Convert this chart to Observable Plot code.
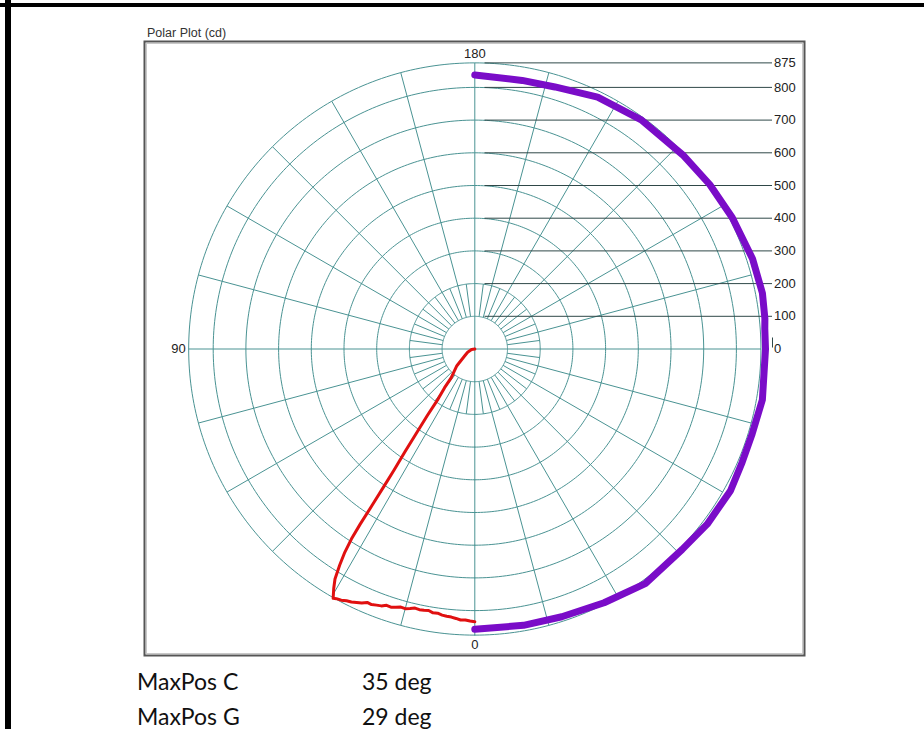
<!DOCTYPE html>
<html><head><meta charset="utf-8">
<script src="https://cdn.jsdelivr.net/npm/d3@7"></script>
<script src="https://cdn.jsdelivr.net/npm/@observablehq/plot@0.6"></script>
<style>
html,body{margin:0;padding:0;background:#fff;}
#wrap{position:relative;width:924px;height:729px;overflow:hidden;background:#fff;}
#chart{position:absolute;left:0;top:0;}
.bar{position:absolute;background:#000;}
.cap{position:absolute;font-family:Lato,"Open Sans",sans-serif;font-size:23px;line-height:23px;color:#111;white-space:pre;}
</style></head><body>
<div id="wrap">
<div id="chart"></div>
<div class="bar" style="left:0;top:3px;width:924px;height:4px"></div>
<div class="bar" style="left:5px;top:0;width:6px;height:729px"></div>
<div id="caps"></div>
</div>
<script>
// ---- data ----
const title = "Polar Plot (cd)";
const ringValues = [100, 200, 300, 400, 500, 600, 700, 800, 875];
const scaleTicks = [0, 100, 200, 300, 400, 500, 600, 700, 800, 875];
const angleLabels = [0, 90, 180];
const mainSpokeStep = 15;   // degrees
const innerSpokeStep = 7.5; // degrees

const purpleAngle = [180, 190, 197, 206, 216, 227, 235, 243, 252, 259, 264, 266, 270, 280, 287, 293, 299, 307, 314, 324, 333, 342, 350, 360];
const purpleValue = [838, 834, 838, 857, 866, 870, 877, 884, 893, 896, 892, 889, 889, 893, 887, 888, 894, 890, 882, 887, 871, 861, 858, 857];

const redAngle = [0, 1, 2, 3, 4, 5, 6, 7, 8, 9, 10, 11, 12, 13, 14, 15, 16, 17, 18, 19, 20, 21, 22, 23, 24, 25, 26, 27, 28, 29, 29.6,
  30.5, 31.3, 32.0, 32.6, 33.0, 33.2, 33.3, 33.5, 33.7, 34.2, 34.7, 35.5, 36.3, 38, 39.4, 47, 56, 66, 81, 90];
const redValue = [834, 832, 829, 830, 826, 823, 822, 820, 816, 817, 812, 814, 815, 813, 818, 822, 821, 826, 830, 829, 836, 839, 843, 842, 850, 855, 861, 864, 870, 873, 877,
  850, 823, 780, 738, 693, 640, 571, 500, 444, 380, 318, 250, 189, 150, 114, 75, 37, 24, 10, 0];

const captionNames = ["MaxPos C", "MaxPos G"];
const captionValues = [35, 29];
const captionUnit = "deg";

// ---- geometry ----
const W = 924, H = 660;
const k = 0.327, cx = 474.3, cy = 348.5;
const L = 144, R = 804, T = 41, B = 655;
const rad = d => d * Math.PI / 180;
const px = (a, r) => -r * Math.sin(rad(a));
const py = (a, r) => -r * Math.cos(rad(a));
const toX = p => (p - cx) / k;       // pixel x -> data
const toY = p => (cy - p) / k;       // pixel y -> data

const gridColor = "#4a9393";
const scaleColor = "#2f4848";

const circles = [];
for (const r of ringValues) for (let a = 0; a <= 360; a += 1) circles.push({ring: r, x: px(a, r), y: py(a, r)});

const spokes = [];
for (let a = 0; a < 360; a += mainSpokeStep) {
  const r0 = (a % 90 === 0) ? 0 : ringValues[0];
  const rEnd = ringValues[ringValues.length - 1];
  spokes.push({x1: px(a, r0), y1: py(a, r0), x2: px(a, rEnd), y2: py(a, rEnd)});
}
for (let a = innerSpokeStep; a < 360; a += mainSpokeStep) {
  spokes.push({x1: px(a, ringValues[0]), y1: py(a, ringValues[0]), x2: px(a, ringValues[1]), y2: py(a, ringValues[1])});
}

const scaleLines = scaleTicks.filter(v => v > 0).map(v => ({v}));
const purple = purpleAngle.map((a, i) => ({x: px(a, purpleValue[i]), y: py(a, purpleValue[i])}));
const red = redAngle.map((a, i) => ({x: px(a, redValue[i]), y: py(a, redValue[i])}));

const lineX1 = toX(484), lineX2 = toX(771.5), labelX = toX(773.5);

const angleLabelPos = angleLabels.map(a => {
  if (a === 180) return {t: String(a), x: 0, y: toY(53), anchor: "middle"};
  if (a === 0) return {t: String(a), x: 0, y: toY(644.5), anchor: "middle"};
  return {t: String(a), x: toX(178), y: 0, anchor: "end"};
});

const chart = Plot.plot({
  width: W, height: H,
  marginLeft: L, marginRight: W - R, marginTop: T, marginBottom: H - B,
  x: {type: "linear", domain: [toX(L), toX(R)], axis: null},
  y: {type: "linear", domain: [toY(B), toY(T)], axis: null},
  style: {background: "transparent", fontFamily: "'Liberation Sans', Arial, sans-serif"},
  marks: [
    Plot.frame({fill: "#fff"}),
    Plot.line(circles, {x: "x", y: "y", z: "ring", stroke: gridColor, strokeWidth: 1}),
    Plot.link(spokes, {x1: "x1", y1: "y1", x2: "x2", y2: "y2", stroke: gridColor, strokeWidth: 1}),
    Plot.link(scaleLines, {x1: lineX1, x2: lineX2, y1: "v", y2: "v", stroke: scaleColor, strokeWidth: 1}),
    Plot.link([0], {x1: toX(772), x2: toX(772), y1: toY(337), y2: toY(347), stroke: scaleColor, strokeWidth: 1}),
    Plot.line(red, {x: "x", y: "y", stroke: "#e01010", strokeWidth: 3, strokeLinejoin: "round", strokeLinecap: "round"}),
    Plot.line(purple, {x: "x", y: "y", stroke: "#7a0cc8", strokeWidth: 7, strokeLinejoin: "round", strokeLinecap: "round"}),
    Plot.text(scaleTicks, {x: labelX, y: d => d, text: d => String(d), textAnchor: "start", fontSize: 13, fill: "#222"}),
    Plot.text(angleLabelPos, {x: "x", y: "y", text: "t", textAnchor: d => d.anchor, fontSize: 13, fill: "#222"}),
    Plot.text([title], {x: toX(146.5), y: toY(32.5), text: d => d, textAnchor: "start", fontSize: 12.5, fill: "#333"}),
    Plot.frame({stroke: "#c8c8c8", strokeWidth: 1, inset: 2}),
    Plot.frame({stroke: "#555", strokeWidth: 2})
  ]
});
document.getElementById("chart").appendChild(chart);

const caps = document.getElementById("caps");
const capTops = [669.5, 704.5];
captionNames.forEach((n, i) => {
  const a = document.createElement("div");
  a.className = "cap"; a.style.left = "137px"; a.style.top = capTops[i] + "px"; a.textContent = n;
  const b = document.createElement("div");
  b.className = "cap"; b.style.left = "362px"; b.style.top = capTops[i] + "px"; b.textContent = captionValues[i] + " " + captionUnit;
  caps.appendChild(a); caps.appendChild(b);
});
</script>
</body></html>
